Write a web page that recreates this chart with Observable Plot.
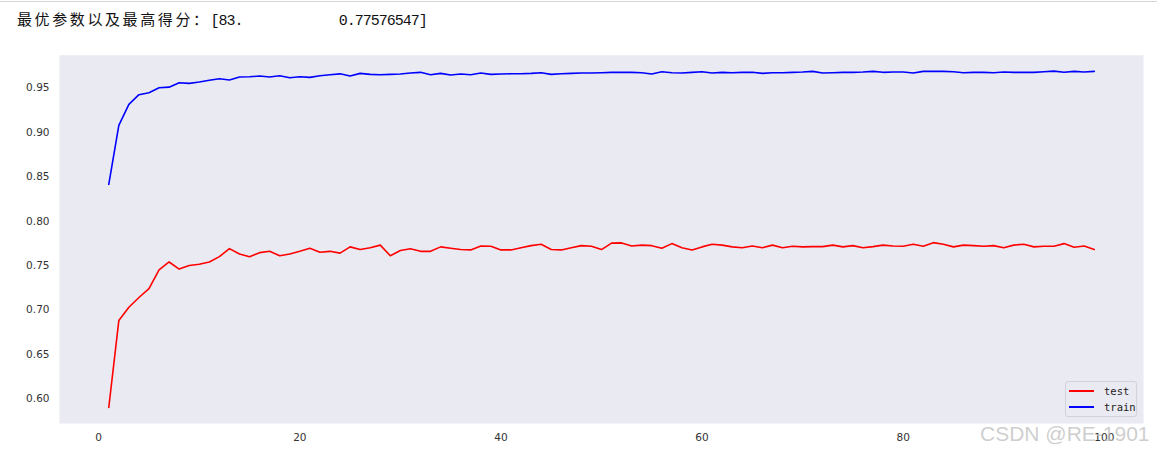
<!DOCTYPE html>
<html>
<head>
<meta charset="utf-8">
<script src="https://cdn.jsdelivr.net/npm/d3@7"></script>
<script src="https://cdn.jsdelivr.net/npm/@observablehq/plot@0.6"></script>
<style>
  html, body { margin: 0; padding: 0; background: #fff; }
  #wrap { position: relative; width: 1157px; height: 455px; overflow: hidden; }
  #topline { position: absolute; left: 0; top: 1px; width: 1157px; height: 1px; background: #d4d4d4; }
  #title { height: 40px; padding-left: 17px; box-sizing: border-box; padding-top: 9px; white-space: pre; color: #111; line-height: 20px; }
  #title .cjk { font-family: "Noto Sans CJK SC", sans-serif; font-size: 15px; letter-spacing: 2.6px; }
  #title .num { font-family: "Liberation Mono", "DejaVu Sans Mono", monospace; font-size: 15px; letter-spacing: -1px; }
  #legend { position: absolute; left: 1065px; top: 381px; width: 72px; height: 36px; border: 1px solid #d2d2da; border-radius: 3px; background: #EAEAF2; box-sizing: border-box; font-family: "DejaVu Sans Mono", monospace; font-size: 10.5px; color: #222; }
  #legend .row { position: absolute; left: 0; height: 14px; }
  #legend .sw { position: absolute; left: 3px; top: 6px; width: 25px; height: 2px; }
  #legend .lb { position: absolute; left: 38px; top: 0; line-height: 14px; }
  #wm { position: absolute; left: 980px; top: 422px; font-family: "Liberation Sans", Arial, sans-serif; font-size: 21px; color: rgba(190,190,190,0.75); white-space: nowrap; }
  svg { display: block; }
</style>
</head>
<body>
<div id="wrap">
  <div id="topline"></div>
  <div id="title"></div>
  <div id="chart"></div>
  <div id="legend"></div>
  <div id="wm">CSDN @RE-1901</div>
</div>
<script>
const titleLabel = "最优参数以及最高得分：";
const titleValue = "[83.            0.77576547]";

const paramValues = d3.range(1, 100); // n = 1..99

const testScores = [
  0.590,0.688,0.703,0.714,0.724,0.745,0.754,0.746,0.750,0.7515,
  0.754,0.760,0.769,0.763,0.760,0.7645,0.766,0.761,0.763,0.766,
  0.7695,0.765,0.766,0.764,0.771,0.768,0.770,0.773,0.761,0.767,
  0.769,0.766,0.766,0.771,0.7695,0.768,0.7676,0.772,0.7717,0.7676,
  0.7676,0.770,0.7724,0.774,0.768,0.7676,0.770,0.7724,0.7717,0.768,
  0.7752,0.7755,0.772,0.773,0.7724,0.7695,0.7747,0.770,0.7676,0.771,
  0.774,0.773,0.771,0.770,0.772,0.770,0.773,0.770,0.7717,0.771,
  0.7713,0.7713,0.773,0.771,0.7724,0.770,0.7713,0.773,0.772,0.7717,
  0.774,0.7717,0.77576547,0.774,0.771,0.773,0.7724,0.7717,0.7724,0.770,
  0.773,0.774,0.771,0.7717,0.7717,0.7747,0.7706,0.772,0.768
];

const trainScores = [
  0.8415,0.908,0.9316,0.9425,0.9447,0.9503,0.951,0.956,0.9553,0.9568,
  0.9587,0.9605,0.959,0.9624,0.9627,0.9635,0.9624,0.9639,0.9616,0.9627,
  0.962,0.9639,0.965,0.966,0.9635,0.9665,0.9654,0.965,0.9654,0.9658,
  0.9669,0.9677,0.965,0.9665,0.9646,0.9658,0.965,0.9669,0.9654,0.9658,
  0.9661,0.9661,0.9665,0.9672,0.9654,0.9661,0.9665,0.9669,0.9669,0.9673,
  0.9677,0.9677,0.9677,0.9673,0.9658,0.9684,0.9673,0.9669,0.9677,0.9684,
  0.9669,0.9677,0.9673,0.9677,0.9677,0.9665,0.9673,0.9673,0.9677,0.968,
  0.9688,0.9669,0.9673,0.9677,0.9677,0.968,0.9688,0.9677,0.968,0.968,
  0.9669,0.9688,0.9688,0.9688,0.9684,0.9673,0.9677,0.9677,0.9673,0.968,
  0.9677,0.9677,0.9677,0.9684,0.9691,0.9677,0.9688,0.968,0.9688
];

const seriesNames = ["test", "train"];
const seriesColors = ["#ff0000", "#0000ff"];
const xTicks = [0, 20, 40, 60, 80, 100];
const yTicks = [0.60, 0.65, 0.70, 0.75, 0.80, 0.85, 0.90, 0.95];

// title
const t = document.getElementById("title");
t.innerHTML = `<span class="cjk">${titleLabel}</span><span class="num">${titleValue}</span>`;

const testData = paramValues.map((n, i) => ({n, v: testScores[i]}));
const trainData = paramValues.map((n, i) => ({n, v: trainScores[i]}));

const chart = Plot.plot({
  width: 1157,
  height: 415,
  marginTop: 14.7,
  marginBottom: 32,
  marginLeft: 59,
  marginRight: 14,
  style: { fontFamily: "'DejaVu Sans', sans-serif", fontSize: "10.5px", color: "#333", background: "transparent" },
  x: { domain: [-3.9, 103.9], ticks: xTicks, tickSize: 0, tickPadding: 10, label: null, tickFormat: d3.format("d") },
  y: { domain: [0.572, 0.987], ticks: yTicks, tickSize: 0, tickPadding: 10, label: null, tickFormat: d3.format(".2f") },
  marks: [
    Plot.frame({ fill: "#EAEAF2", stroke: null }),
    Plot.line(testData, { x: "n", y: "v", stroke: seriesColors[0], strokeWidth: 1.6 }),
    Plot.line(trainData, { x: "n", y: "v", stroke: seriesColors[1], strokeWidth: 1.6 })
  ]
});
document.getElementById("chart").appendChild(chart);

// legend
const lg = document.getElementById("legend");
seriesNames.forEach((name, i) => {
  const row = document.createElement("div");
  row.className = "row";
  row.style.top = (2 + i * 16) + "px";
  row.style.width = "100%";
  row.innerHTML = `<div class="sw" style="background:${seriesColors[i]}"></div><div class="lb">${name}</div>`;
  lg.appendChild(row);
});
</script>
</body>
</html>
